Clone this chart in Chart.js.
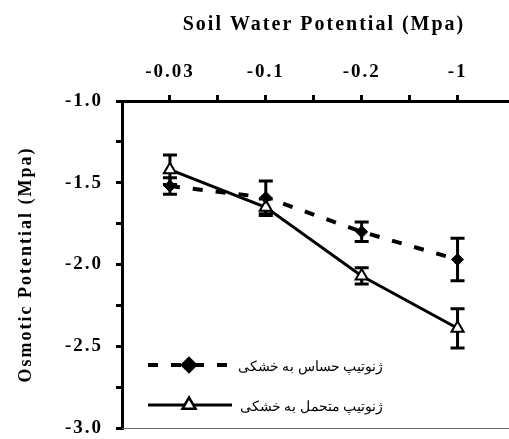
<!DOCTYPE html>
<html>
<head>
<meta charset="utf-8">
<script src="https://cdn.jsdelivr.net/npm/chart.js@4.4.1/dist/chart.umd.min.js"></script>
<style>
    html, body { margin: 0; padding: 0; background: #fff; overflow: hidden; }
    /* the original figure is cut on the right side */
    #wrap { width: 535px; height: 439px; position: relative; }
</style>
</head>
<body>
<div id="wrap"><canvas id="chart"></canvas></div>
<script>
// Data
const categories = ['-0.03', '-0.1', '-0.2', '-1'];
const sensitive = [-1.52, -1.59, -1.80, -1.97];
const sensitiveErr = [0.05, 0.10, 0.06, 0.13];
const tolerant = [-1.42, -1.65, -2.07, -2.39];
const tolerantErr = [0.09, 0.05, 0.05, 0.12];
const yTicks = [-3.0, -2.5, -2.0, -1.5, -1.0];
const legendLabels = ['ژنوتیپ حساس به خشکی', 'ژنوتیپ متحمل به خشکی'];

const serif = "'Liberation Serif', 'Times New Roman', serif";

function toPoints(vals) {
    return vals.map((v, i) => ({ x: i, y: v }));
}

// wide letters like the original figure
const spacing = {
    id: 'spacing',
    beforeUpdate(chart) { chart.ctx.letterSpacing = '2px'; },
    beforeDraw(chart) { chart.ctx.letterSpacing = '2px'; }
};

// Error bars, drawn under the markers
const errorBars = {
    id: 'errorBars',
    beforeDatasetsDraw(chart) {
        const ctx = chart.ctx;
        const xs = chart.scales.x, ys = chart.scales.y;
        const errs = [sensitiveErr, tolerantErr];
        ctx.save();
        ctx.strokeStyle = '#000';
        ctx.lineWidth = 3;
        ctx.setLineDash([]);
        chart.data.datasets.forEach((ds, d) => {
            ds.data.forEach((p, i) => {
                const x = xs.getPixelForValue(p.x);
                const top = ys.getPixelForValue(p.y + errs[d][i]);
                const bot = ys.getPixelForValue(p.y - errs[d][i]);
                ctx.beginPath();
                ctx.moveTo(x, top); ctx.lineTo(x, bot);
                ctx.moveTo(x - 7, top); ctx.lineTo(x + 7, top);
                ctx.moveTo(x - 7, bot); ctx.lineTo(x + 7, bot);
                ctx.stroke();
            });
        });
        ctx.restore();
    }
};

// Legend inside the plot + thin bottom frame line
const innerLegend = {
    id: 'innerLegend',
    afterDraw(chart) {
        const ctx = chart.ctx;
        const a = chart.chartArea;
        ctx.save();
        ctx.letterSpacing = '0px';
        ctx.strokeStyle = '#666';
        ctx.lineWidth = 1;
        ctx.beginPath();
        ctx.moveTo(a.left, a.bottom + 0.5);
        ctx.lineTo(a.right, a.bottom + 0.5);
        ctx.stroke();

        const rows = [365, 405];
        chart.data.datasets.forEach((ds, d) => {
            const y = rows[d];
            ctx.strokeStyle = '#000';
            ctx.lineWidth = ds.borderWidth;
            ctx.setLineDash(ds.borderDash || []);
            ctx.beginPath();
            ctx.moveTo(148, y); ctx.lineTo(232, y);
            ctx.stroke();
            ctx.setLineDash([]);
            Chart.helpers.drawPoint(ctx, {
                pointStyle: ds.pointStyle,
                radius: ds.pointRadius,
                borderWidth: ds.pointBorderWidth
            }, 189, y);
            ctx.fillStyle = ds.pointBackgroundColor;
            ctx.strokeStyle = '#000';
            ctx.lineWidth = ds.pointBorderWidth;
            ctx.fill();
            ctx.stroke();
            ctx.fillStyle = '#000';
            ctx.font = "14px " + serif;
            ctx.textAlign = 'right';
            ctx.textBaseline = 'middle';
            ctx.fillText(legendLabels[d], 383, y + 2);
        });
        ctx.restore();
    }
};

new Chart(document.getElementById('chart'), {
    type: 'line',
    data: {
        datasets: [{
            label: legendLabels[0],
            data: toPoints(sensitive),
            borderColor: '#000',
            borderWidth: 4,
            borderDash: [10, 13],
            pointStyle: 'rectRot',
            pointRadius: 6,
            pointBackgroundColor: '#000',
            pointBorderColor: '#000',
            pointBorderWidth: 1,
            tension: 0
        }, {
            label: legendLabels[1],
            data: toPoints(tolerant),
            borderColor: '#000',
            borderWidth: 3,
            pointStyle: 'triangle',
            pointRadius: 7,
            pointBackgroundColor: '#fff',
            pointBorderColor: '#000',
            pointBorderWidth: 2,
            tension: 0
        }]
    },
    options: {
        responsive: true,
        maintainAspectRatio: false,
        animation: false,
        layout: { padding: { left: 0, top: 0, right: 0, bottom: 11 } },
        plugins: {
            legend: { display: false },
            tooltip: { enabled: false }
        },
        scales: {
            x: {
                type: 'linear',
                position: 'top',
                min: -0.5,
                max: 3.714,
                afterBuildTicks: (scale) => {
                    scale.ticks = [0, 0.5, 1, 1.5, 2, 2.5, 3].map(v => ({ value: v }));
                },
                afterFit: (scale) => {
                    scale.height = 101;
                    scale.paddingLeft = 0;
                    scale.paddingRight = 0;
                },
                border: { display: true, color: '#000', width: 3 },
                grid: { drawOnChartArea: false, drawTicks: true, tickLength: 6, color: '#000', lineWidth: 3 },
                ticks: {
                    color: '#000',
                    font: { family: serif, size: 19, weight: 'bold' },
                    padding: 12,
                    maxRotation: 0,
                    autoSkip: false,
                    callback: (v) => Number.isInteger(v) ? categories[v] : ''
                },
                title: {
                    display: true,
                    text: 'Soil Water Potential (Mpa)',
                    color: '#000',
                    font: { family: serif, size: 20, weight: 'bold' },
                    padding: { top: 13, bottom: 8 }
                }
            },
            y: {
                min: -3,
                max: -1,
                afterBuildTicks: (scale) => {
                    const t = [];
                    for (let v = -3; v <= -1.0001 + 0.0002; v += 0.25) t.push({ value: Math.round(v * 100) / 100 });
                    scale.ticks = t;
                },
                afterFit: (scale) => {
                    scale.width = 122;
                    scale.paddingTop = 0;
                    scale.paddingBottom = 0;
                },
                border: { display: true, color: '#000', width: 3 },
                grid: { drawOnChartArea: false, drawTicks: true, tickLength: 6, color: '#000', lineWidth: 3 },
                ticks: {
                    color: '#000',
                    font: { family: serif, size: 19, weight: 'bold' },
                    padding: 13,
                    callback: (v) => yTicks.includes(v) ? v.toFixed(1) : ''
                },
                title: {
                    display: true,
                    text: 'Osmotic Potential (Mpa)',
                    color: '#000',
                    font: { family: serif, size: 18, weight: 'bold' },
                    padding: { top: 16, bottom: 0 }
                }
            }
        }
    },
    plugins: [spacing, errorBars, innerLegend]
});
</script>
</body>
</html>
